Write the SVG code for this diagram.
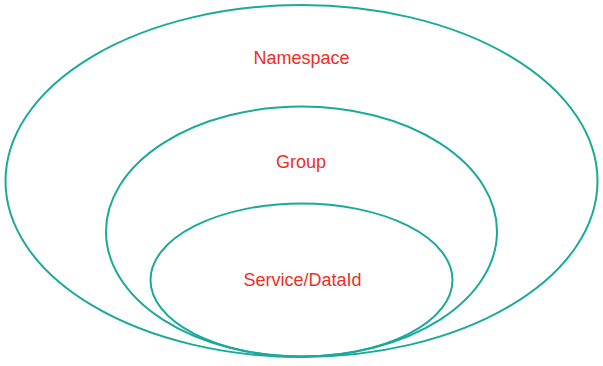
<svg xmlns="http://www.w3.org/2000/svg" width="603" height="366" viewBox="0 0 603 366">
  <style>
    .ring { fill: none; stroke: #1aa99a; stroke-width: 2; }
    .label { font-family: "Liberation Sans", Arial, sans-serif; font-size: 18px; fill: #ee2e1f; text-anchor: middle; }
  </style>
  <rect width="603" height="366" fill="#ffffff"/>
  <g id="namespace">
    <ellipse class="ring" cx="301.5" cy="181" rx="296" ry="176"/>
    <text class="label" x="301.5" y="64">Namespace</text>
  </g>
  <g id="group">
    <ellipse class="ring" cx="301.5" cy="231.5" rx="195.5" ry="125"/>
    <text class="label" x="301" y="168">Group</text>
  </g>
  <g id="service-dataid">
    <ellipse class="ring" cx="301.5" cy="280" rx="151" ry="76.5"/>
    <text class="label" x="302.5" y="286">Service/DataId</text>
  </g>
  <g id="connectors"/>
</svg>
